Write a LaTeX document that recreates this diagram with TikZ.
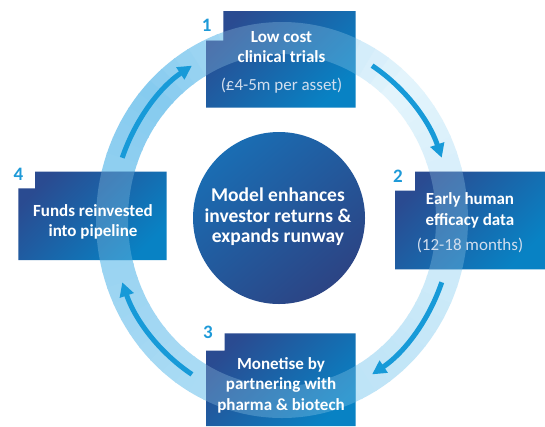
\documentclass[tikz,border=0pt]{standalone}
\usepackage{fontspec}
\setmainfont{Carlito}
\usetikzlibrary{arrows.meta}
\definecolor{ringdark}{HTML}{86CBEF}
\definecolor{ringlight}{HTML}{E3F4FC}
\definecolor{boxA}{HTML}{2A4B91}
\definecolor{boxB}{HTML}{0882C4}
\definecolor{circA}{HTML}{1A6DB3}
\definecolor{circM}{HTML}{2A4C8F}
\definecolor{circB}{HTML}{2C4484}
\definecolor{arrowc}{HTML}{179AD8}
\definecolor{numc}{HTML}{1E9AD8}
\definecolor{parenc}{HTML}{D2DEEE}
\newcommand\drawringsegs{%
  \foreach \a in {0,5,...,355}{%
    \pgfmathtruncatemacro\p{\a>=135 ? 100-(\a-135)/2.7 : (\a<45 ? 100-(\a+225)/2.7 : (\a-45)/0.9)}%
    \draw[line width=32, draw=ringdark!\p!ringlight] ({282+170*cos(-\a)},{220+182*sin(-\a)}) arc[start angle=-\a, end angle=-\a-5.6, x radius=170, y radius=182];
  }}
\tikzset{
  boxfill/.style={top color=boxA, bottom color=boxB, shading angle=45},
  boxtxt/.style={text=white, font=\fontsize{17}{19}\selectfont\bfseries, anchor=base, inner sep=0pt},
  parentxt/.style={text=parenc, font=\fontsize{17}{19}\selectfont, anchor=base, inner sep=0pt},
  ctxt/.style={text=white, font=\fontsize{19.5}{21}\selectfont\bfseries, anchor=base, inner sep=0pt},
  numtxt/.style={text=numc, font=\fontsize{19}{21}\selectfont\bfseries, inner sep=0pt},
  flow/.style={line width=5, draw=arrowc, -{Triangle[width=14pt,length=14pt]}}
}
\begin{document}
\begin{tikzpicture}[x=1pt,y=-1pt]
\useasboundingbox (0,0) rectangle (545,426);
\fill[white] (0,0) rectangle (545,426);
% ring
\drawringsegs
% boxes
\shade[boxfill] (206,40.7) -- (223.3,40.7) -- (223.3,11) -- (355.7,11) -- (355.7,107.7) -- (206,107.7) -- cycle;
\shade[boxfill] (395,190.7) -- (415,190.7) -- (415,171.7) -- (545,171.7) -- (545,269.3) -- (395,269.3) -- cycle;
\shade[boxfill] (206,350.7) -- (224.5,350.7) -- (224.5,333.3) -- (355.7,333.3) -- (355.7,426) -- (206,426) -- cycle;
\shade[boxfill] (18.3,188.3) -- (35,188.3) -- (35,171.7) -- (166.7,171.7) -- (166.7,260) -- (18.3,260) -- cycle;
% ring seen through boxes
\begin{scope}
\clip (206,40.7) -- (223.3,40.7) -- (223.3,11) -- (355.7,11) -- (355.7,107.7) -- (206,107.7) -- cycle
      (395,190.7) -- (415,190.7) -- (415,171.7) -- (545,171.7) -- (545,269.3) -- (395,269.3) -- cycle
      (206,350.7) -- (224.5,350.7) -- (224.5,333.3) -- (355.7,333.3) -- (355.7,426) -- (206,426) -- cycle
      (18.3,188.3) -- (35,188.3) -- (35,171.7) -- (166.7,171.7) -- (166.7,260) -- (18.3,260) -- cycle;
\draw[line width=32, draw=ringdark!60!ringlight, draw opacity=0.28] (282,220) ellipse[x radius=170, y radius=182];
\end{scope}
% arrows
\coordinate (a1) at ({282+170*cos(-160)},{220+182*sin(-160)});
\coordinate (a2) at ({282+170*cos(-58)},{220+182*sin(-58)});
\coordinate (a3) at ({282+170*cos(20)},{220+182*sin(20)});
\coordinate (a4) at ({282+170*cos(122)},{220+182*sin(122)});
\draw[flow] (a1) arc[start angle=-160, end angle=-122, x radius=170, y radius=182];
\draw[flow] (a2) arc[start angle=-58, end angle=-20, x radius=170, y radius=182];
\draw[flow] (a3) arc[start angle=20, end angle=58, x radius=170, y radius=182];
\draw[flow] (a4) arc[start angle=122, end angle=160, x radius=170, y radius=182];
% centre
\shade[top color=circA, middle color=circM, bottom color=circB, shading angle=40] (279,218) circle[radius=86];
\node[ctxt] (c1) at (278,201.5) {Model enhances};
\node[ctxt] (c2) at (278,222) {investor returns \&};
\node[ctxt] (c3) at (278,242.5) {expands runway};
% numbers
\node[numtxt] (n1) at (206.7,25) {1};
\node[numtxt] (n2) at (398,176.5) {2};
\node[numtxt] (n3) at (208,332.5) {3};
\node[numtxt] (n4) at (18.5,174) {4};
% box texts
\node[boxtxt] (b1a) at (281.5,42) {Low cost};
\node[boxtxt] (b1b) at (281.5,62.5) {clinical trials};
\node[parentxt] (b1c) at (281.5,90) {(£4-5m per asset)};
\node[boxtxt] (b2a) at (470,204) {Early human};
\node[boxtxt] (b2b) at (470,225.5) {efficacy data};
\node[parentxt] (b2c) at (470,250.5) {(12-18 months)};
\node[boxtxt] (b3a) at (281,369) {Monetise by};
\node[boxtxt] (b3b) at (281,389.5) {partnering with};
\node[boxtxt] (b3c) at (281,410.5) {pharma \& biotech};
\node[boxtxt] (b4a) at (93,216.5) {Funds reinvested};
\node[boxtxt] (b4b) at (93,236.5) {into pipeline};
\end{tikzpicture}
\end{document}
